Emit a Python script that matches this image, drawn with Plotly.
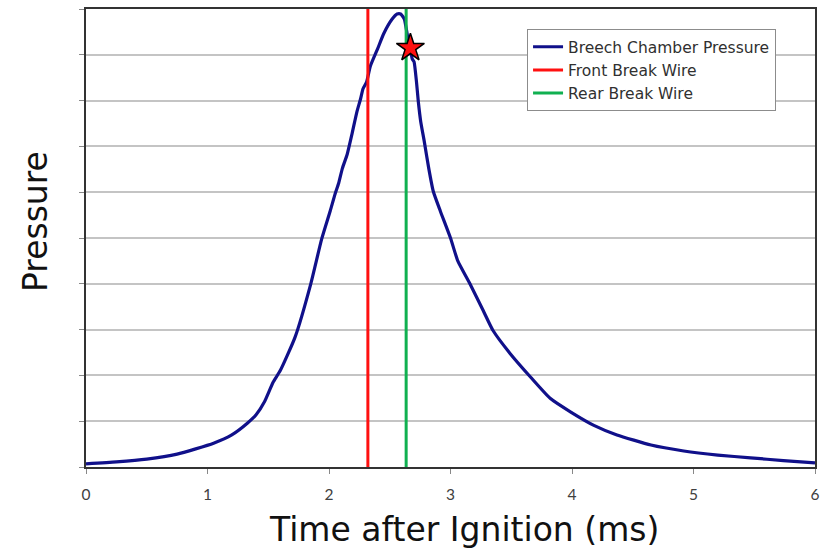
import plotly.graph_objects as go

# Breech chamber pressure trace (relative units)
time_ms = [0, 0.25, 0.5, 0.75, 1.05, 1.2, 1.33, 1.40, 1.47, 1.54, 1.60, 1.72, 1.85, 1.94,
           2.01, 2.05, 2.08, 2.11, 2.15, 2.19, 2.23, 2.26, 2.28, 2.31, 2.34, 2.40, 2.45,
           2.52, 2.56, 2.59, 2.62, 2.645, 2.67, 2.685, 2.70, 2.72, 2.735, 2.755, 2.784,
           2.821, 2.858, 2.916, 3.0, 3.06, 3.16, 3.27, 3.35, 3.49, 3.66, 3.82, 3.99,
           4.18, 4.37, 4.65, 4.92, 5.2, 5.47, 5.74, 6.0]
pressure = [0.07, 0.11, 0.17, 0.28, 0.52, 0.70, 0.96, 1.14, 1.43, 1.85, 2.11, 2.83, 4.0, 4.98,
            5.59, 5.96, 6.2, 6.52, 6.83, 7.28, 7.76, 8.04, 8.26, 8.41, 8.75, 9.13, 9.46,
            9.78, 9.89, 9.89, 9.78, 9.43, 9.13, 8.91, 8.85, 8.41, 7.98, 7.54, 7.11,
            6.52, 6.02, 5.59, 5.0, 4.5, 4.0, 3.41, 2.98, 2.48, 1.96, 1.5, 1.2,
            0.91, 0.70, 0.48, 0.35, 0.26, 0.20, 0.14, 0.09]

front_wire_t = 2.32
rear_wire_t = 2.635
star_t = 2.67
star_p = 9.15

y_min, y_max = 0, 10
x_ticks = [0, 1, 2, 3, 4, 5, 6]

fig = go.Figure()
fig.add_trace(go.Scatter(x=time_ms, y=pressure, mode="lines", name="Breech Chamber Pressure",
                         line=dict(color="#10108a", width=3.2, shape="spline", smoothing=0.5)))
fig.add_trace(go.Scatter(x=[front_wire_t, front_wire_t], y=[y_min, y_max], mode="lines",
                         name="Front Break Wire", line=dict(color="#ff1010", width=3)))
fig.add_trace(go.Scatter(x=[rear_wire_t, rear_wire_t], y=[y_min, y_max], mode="lines",
                         name="Rear Break Wire", line=dict(color="#10b050", width=3)))
fig.add_trace(go.Scatter(x=[star_t], y=[star_p], mode="markers", showlegend=False,
                         marker=dict(symbol="star", size=21, color="#ff1010",
                                     line=dict(color="black", width=1.5))))

title_font = dict(family="DejaVu Sans", size=33, color="#111111")

fig.update_layout(
    width=829, height=554,
    margin=dict(l=86, r=14, t=7, b=87),
    plot_bgcolor="white", paper_bgcolor="white",
    font=dict(family="Lato, Liberation Sans, sans-serif", color="#404040"),
    legend=dict(x=0.605, y=0.956, xanchor="left", yanchor="top",
                bordercolor="#8c8c8c", borderwidth=1, bgcolor="white",
                font=dict(family="DejaVu Sans", size=15.5, color="#303030"), itemwidth=30,
                tracegroupgap=0),
    xaxis=dict(range=[0, 6], tickvals=x_ticks, ticktext=[str(t) for t in x_ticks],
               showgrid=False, zeroline=False, showline=True, mirror=True,
               linecolor="#333333", linewidth=2, ticks="outside", ticklen=5,
               tickcolor="#888888", tickfont=dict(size=15.5, color="#404040"),
               ticklabelstandoff=7),
    yaxis=dict(range=[y_min, y_max], dtick=1, showticklabels=False,
               showgrid=True, gridcolor="#c4c4c4", gridwidth=1.5, zeroline=False,
               showline=True, mirror=True, linecolor="#333333", linewidth=2,
               ticks="outside", ticklen=5, tickcolor="#888888"),
    annotations=[
        dict(text="Time after Ignition (ms)", xref="paper", yref="paper",
             x=0.519, y=-0.137, xanchor="center", yanchor="middle",
             showarrow=False, font=title_font),
        dict(text="Pressure", xref="paper", yref="paper",
             x=-0.07, y=0.537, xanchor="center", yanchor="middle", textangle=-90,
             showarrow=False, font=title_font),
    ],
)

fig.write_html("out.html", config={"displayModeBar": False},
               post_script="document.body.style.margin='0px';")
